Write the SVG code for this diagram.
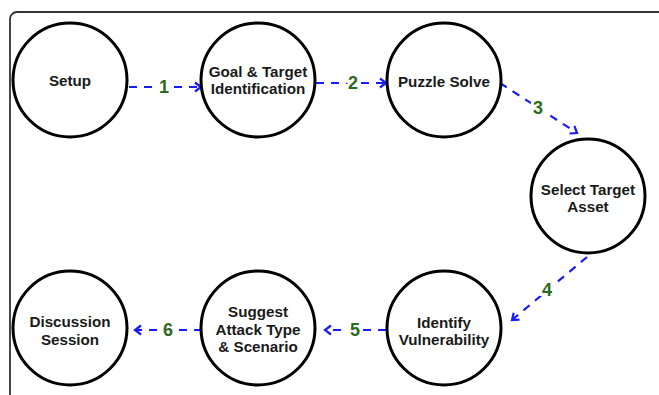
<svg xmlns="http://www.w3.org/2000/svg" width="659" height="395" viewBox="0 0 659 395">
<style>
.node circle{fill:#fff;stroke:#000;stroke-width:3}
.node text{font-family:"Liberation Sans",Arial,sans-serif;font-weight:bold;font-size:15.2px;fill:#1a1a1a;text-anchor:middle}
.edge{fill:none;stroke:#1a1aff;stroke-width:2.2;stroke-dasharray:8 7;marker-end:url(#arr)}
.lbl{font-family:"Liberation Sans",Arial,sans-serif;font-weight:bold;font-size:18px;fill:#2d6a1f;text-anchor:middle;stroke:#fff;stroke-width:6;paint-order:stroke}
</style>
<defs>
<marker id="arr" markerWidth="12" markerHeight="12" refX="9" refY="6" orient="auto" markerUnits="userSpaceOnUse">
<path d="M3,1.5 L9,6 L3,10.5" fill="none" stroke="#1a1aff" stroke-width="2.2"/>
</marker>
</defs>
<rect x="10" y="12" width="660" height="400" rx="7" fill="#fff" stroke="#333" stroke-width="1.8"/>
<g id="connectors">
<path class="edge" d="M129,87 L201,87"/>
<path class="edge" d="M316,83 L386,83"/>
<path class="edge" d="M500,83 L577,133"/>
<path class="edge" d="M587,257 L512,320"/>
<path class="edge" d="M386,330 L325,330"/>
<path class="edge" d="M202,330 L135,330"/>
<text class="lbl" x="164" y="93">1</text>
<text class="lbl" x="353" y="89">2</text>
<text class="lbl" x="538" y="114">3</text>
<text class="lbl" x="547" y="296">4</text>
<text class="lbl" x="355" y="336">5</text>
<text class="lbl" x="168" y="336">6</text>
</g>
<g id="setup" class="node"><circle cx="70" cy="80" r="57"/><text x="70" y="86">Setup</text></g>
<g id="goal" class="node"><circle cx="258" cy="80" r="57"/><text x="258" y="77">Goal &amp; Target</text><text x="258" y="94">Identification</text></g>
<g id="puzzle" class="node"><circle cx="444" cy="80" r="57"/><text x="444" y="87">Puzzle Solve</text></g>
<g id="select" class="node"><circle cx="588" cy="196" r="57"/><text x="588" y="195">Select Target</text><text x="588" y="212">Asset</text></g>
<g id="identify" class="node"><circle cx="444" cy="328" r="57"/><text x="444" y="328">Identify</text><text x="444" y="345">Vulnerability</text></g>
<g id="suggest" class="node"><circle cx="258" cy="328" r="57"/><text x="258" y="317">Suggest</text><text x="258" y="335">Attack Type</text><text x="258" y="352">&amp; Scenario</text></g>
<g id="discussion" class="node"><circle cx="70" cy="328" r="57"/><text x="70" y="327">Discussion</text><text x="70" y="345">Session</text></g>
</svg>
